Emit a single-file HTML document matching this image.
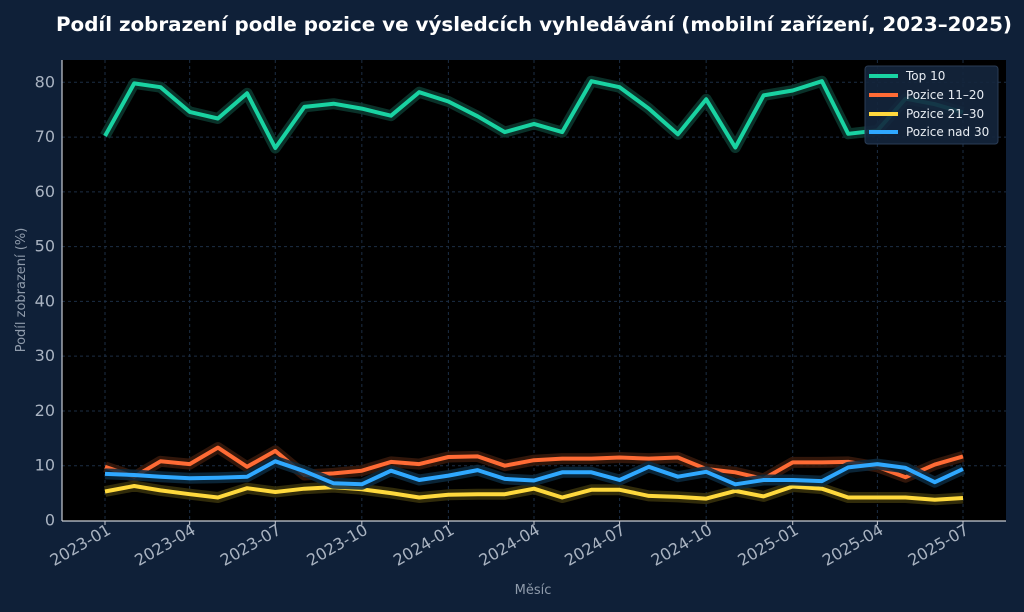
<!DOCTYPE html>
<html><head><meta charset="utf-8"><style>
html,body{margin:0;padding:0;background:#0f2038;}
svg{display:block;font-family:"DejaVu Sans","Liberation Sans",sans-serif;}
</style></head><body>
<svg id="s" width="1024" height="612" xmlns="http://www.w3.org/2000/svg">
<rect width="1024" height="612" fill="#0f2038"/>
<text x="534" y="31" fill="#ffffff" font-size="19.3" font-weight="bold" text-anchor="middle" textLength="956" lengthAdjust="spacingAndGlyphs">Podíl zobrazení podle pozice ve výsledcích vyhledávání (mobilní zařízení, 2023–2025)</text>
<rect x="62" y="60" width="944" height="461" fill="#000"/>
<g id="grid"></g>
<g id="lines"></g>
<line x1="62" y1="60" x2="62" y2="521" stroke="#c8ccd4" stroke-width="1.2"/>
<line x1="62" y1="521" x2="1006" y2="521" stroke="#c8ccd4" stroke-width="1.2"/>
<g id="lab" fill="#a9b3c1" font-size="16"></g>
<text x="533" y="594" fill="#8f9bab" font-size="13" text-anchor="middle">Měsíc</text>
<text transform="translate(25,290) rotate(-90)" fill="#8f9bab" font-size="13" text-anchor="middle">Podíl zobrazení (%)</text>
<g>
<rect x="865" y="66" width="133" height="78" rx="3" fill="#14263d" fill-opacity="0.9" stroke="#2a3c55"/>
<line x1="869" y1="76" x2="898" y2="76" stroke="#19d3a2" stroke-width="4"/>
<line x1="869" y1="95" x2="898" y2="95" stroke="#ff6b35" stroke-width="4"/>
<line x1="869" y1="114" x2="898" y2="114" stroke="#ffd93d" stroke-width="4"/>
<line x1="869" y1="132" x2="898" y2="132" stroke="#2fa8ff" stroke-width="4"/>
<g fill="#e8edf3" font-size="12">
<text x="906" y="80">Top 10</text>
<text x="906" y="99">Pozice 11–20</text>
<text x="906" y="118">Pozice 21–30</text>
<text x="906" y="136">Pozice nad 30</text>
</g></g>
</svg>
<script>
var NS="http://www.w3.org/2000/svg";
function el(p,t,a,txt){var e=document.createElementNS(NS,t);for(var k in a)e.setAttribute(k,a[k]);if(txt!=null)e.textContent=txt;p.appendChild(e);return e;}
function X(i){var y=2023+Math.floor(i/12),m=i%12;var d=(Date.UTC(y,m,1)-Date.UTC(2023,0,1))/864e5;return 105+d*858/912;}
function Y(v){return 520.5-v*5.4775;}
var g=document.getElementById('grid'),lab=document.getElementById('lab');
for(var v=0;v<=80;v+=10){var y=Y(v);if(v>0)el(g,'line',{x1:62,x2:1006,y1:y,y2:y,stroke:'#1c2e44','stroke-dasharray':'3,3'});el(lab,'text',{x:55,y:y+5,'text-anchor':'end'},v);}
var names=['2023-01','2023-04','2023-07','2023-10','2024-01','2024-04','2024-07','2024-10','2025-01','2025-04','2025-07'];
for(var j=0;j<11;j++){var x=X(j*3);el(g,'line',{x1:x,x2:x,y1:60,y2:521,stroke:'#1c2e44','stroke-dasharray':'3,3'});el(g,'line',{x1:x,x2:x,y1:521,y2:525,stroke:'#c8ccd4'});el(lab,'text',{transform:'translate('+(x+7)+',533) rotate(-30)','text-anchor':'end'},names[j]);}
var S=[
['#19d3a2','#0c3a30',[70.2,79.8,79.1,74.6,73.4,78,68,75.5,76.1,75.2,73.9,78.2,76.5,73.8,70.9,72.4,70.9,80.2,79.1,75.2,70.5,76.9,68.1,77.6,78.5,80.2,70.6,71.2,77,76,74.5]],
['#ff6b35','#3a1a0c',[9.8,8.0,10.8,10.3,13.3,9.8,12.7,8.3,8.6,9.1,10.7,10.3,11.6,11.7,10.0,11.0,11.3,11.3,11.5,11.3,11.5,9.4,8.8,7.6,10.6,10.6,10.7,9.8,7.9,10.2,11.7]],
['#ffd93d','#3a330c',[5.3,6.3,5.5,4.8,4.2,5.9,5.2,5.8,6.1,5.7,5.0,4.2,4.7,4.8,4.8,5.8,4.2,5.6,5.6,4.5,4.3,4.0,5.4,4.4,6.2,5.8,4.2,4.2,4.2,3.8,4.1]],
['#2fa8ff','#0c2a40',[8.5,8.3,8.0,7.7,7.8,8.0,10.8,9.0,6.8,6.6,9.1,7.4,8.2,9.2,7.6,7.3,8.8,8.8,7.4,9.8,8.0,8.9,6.6,7.4,7.4,7.2,9.7,10.3,9.6,7.0,9.4]]];
var L=document.getElementById('lines');
S.forEach(function(s){var p=s[2].map(function(v,i){return X(i).toFixed(1)+','+Y(v).toFixed(1)}).join(' ');
el(L,'polyline',{points:p,fill:'none',stroke:s[1],'stroke-width':11,'stroke-linejoin':'round','stroke-opacity':0.85});
el(L,'polyline',{points:p,fill:'none',stroke:s[0],'stroke-width':4,'stroke-linejoin':'round'});});
</script>
</body></html>
